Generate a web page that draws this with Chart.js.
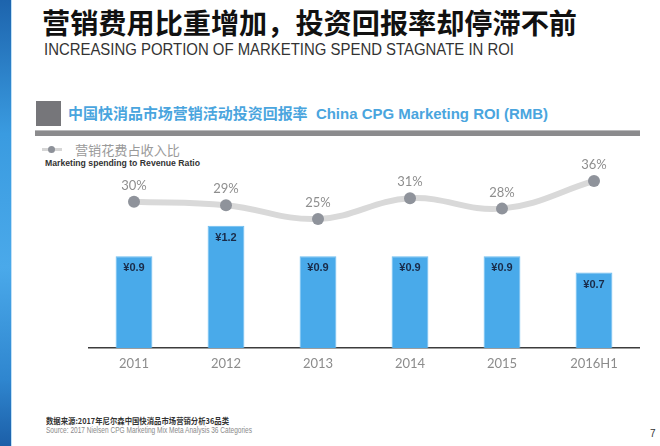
<!DOCTYPE html>
<html>
<head>
<meta charset="utf-8">
<script src="https://cdn.jsdelivr.net/npm/chart.js@4/dist/chart.umd.min.js"></script>
<style>
	html, body { margin: 0; padding: 0; background: #fff; }
	body { width: 660px; height: 446px; position: relative; overflow: hidden; font-family: "Liberation Sans", "Noto Sans CJK SC", sans-serif; }
	.abs { position: absolute; white-space: nowrap; transform-origin: left center; }
	#strip { left: 0; top: 0; width: 11px; height: 446px; background: linear-gradient(#1d64ad, #3a9be0 30%, #4aa9ea 60%, #2f86cf 85%, #1c5fa8); border-right: 1px solid #bfe0f7; }
	#title { left: 42px; top: 6px; font: bold 28px/32px "Noto Sans CJK SC", sans-serif; color: #111; }
	#subtitle { left: 44px; top: 41px; font: 16px/18px "Liberation Sans", sans-serif; color: #333; }
	#square { left: 36px; top: 101px; width: 25px; height: 25px; background: #76767a; }
	#header { left: 68px; top: 104px; font: bold 15px/20px "Liberation Sans", "Noto Sans CJK SC", sans-serif; color: #4aa5de; }
	#rule { left: 35px; top: 130px; width: 605px; height: 5px; background: #8b8b8d; border-top: 1px solid #b9b9bb; }
	#legLine { left: 42px; top: 148px; width: 20px; height: 3px; background: #d6d6d6; }
	#legDot { left: 48px; top: 146px; width: 7px; height: 7px; border-radius: 50%; background: #8d9199; }
	#legText { left: 75px; top: 141px; font: 13px/18px "Noto Sans CJK SC", sans-serif; color: #9a9a9a; }
	#legSub { left: 45px; top: 157px; font: bold 9px/12px "Liberation Sans", sans-serif; color: #333; }
	#wrap { left: 88px; top: 140px; width: 552px; height: 248px; }
	#src1 { left: 46px; top: 415px; font: bold 8px/11px "Noto Sans CJK SC", sans-serif; color: #333; }
	#src2 { left: 46px; top: 425px; font: 9px/11px "Liberation Sans", sans-serif; color: #8a8a8a; }
	#page { left: 650px; top: 428px; font: 10px/12px "Liberation Sans", sans-serif; color: #333; }
</style>
</head>
<body>
<div class="abs" id="strip"></div>
<div class="abs" id="title">营销费用比重增加，投资回报率却停滞不前</div>
<div class="abs" id="subtitle">INCREASING PORTION OF MARKETING SPEND STAGNATE IN ROI</div>
<div class="abs" id="square"></div>
<div class="abs" id="header">中国快消品市场营销活动投资回报率&nbsp; China CPG Marketing ROI (RMB)</div>
<div class="abs" id="rule"></div>
<div class="abs" id="legLine"></div>
<div class="abs" id="legDot"></div>
<div class="abs" id="legText">营销花费占收入比</div>
<div class="abs" id="legSub">Marketing spending to Revenue Ratio</div>
<div class="abs" id="wrap"><canvas id="chart"></canvas></div>
<div class="abs" id="src1">数据来源:2017年尼尔森中国快消品市场营销分析36品类</div>
<div class="abs" id="src2">Source: 2017 Nielsen CPG Marketing Mix Meta Analysis 36 Categories</div>
<div class="abs" id="page">7</div>
<script>
// data
const years = ["2011", "2012", "2013", "2014", "2015", "2016H1"];
const roi = [0.9, 1.2, 0.9, 0.9, 0.9, 0.74];          // RMB return per RMB spent
const spendRatio = [30, 29, 25, 31, 28, 36];          // marketing spend / revenue, %

// squeeze texts to the widths seen on the slide
function fitWidth(id, width) {
	const el = document.getElementById(id);
	const w = el.getBoundingClientRect().width;
	if (w > 0) el.style.transform = "scaleX(" + (width / w) + ")";
}
fitWidth("title", 535);
fitWidth("subtitle", 470);
fitWidth("header", 480);
fitWidth("legText", 105);
fitWidth("legSub", 155);
fitWidth("src1", 183);
fitWidth("src2", 206);

const valueLabels = {
	id: "valueLabels",
	afterDatasetsDraw(chart) {
		const ctx = chart.ctx;
		ctx.save();
		ctx.textAlign = "center";
		ctx.textBaseline = "middle";

		// percentages above the line points
		ctx.font = "13px Lato, 'Liberation Sans', sans-serif";
		ctx.fillStyle = "#8e8e8e";
		chart.getDatasetMeta(0).data.forEach((pt, i) => {
			ctx.fillText(spendRatio[i] + "%", pt.x, pt.y - 16);
		});

		// RMB values inside the bar tops
		ctx.font = "bold 11px 'Liberation Sans', sans-serif";
		ctx.fillStyle = "#1a2b48";
		chart.getDatasetMeta(1).data.forEach((bar, i) => {
			ctx.fillText("¥" + roi[i].toFixed(1), bar.x, bar.y + 12);
		});
		ctx.restore();
	}
};

const context = $id("chart").getContext("2d");
function $id(id) { return document.getElementById(id); }

const chart = new Chart(context, {
	type: "bar",
	data: {
		labels: years,
		datasets: [{
			type: "line",
			label: "营销花费占收入比",
			data: spendRatio,
			yAxisID: "yLine",
			borderColor: "#d9d9d9",
			borderWidth: 6,
			tension: 0.4,
			pointRadius: 6,
			pointBackgroundColor: "#8f939b",
			pointBorderWidth: 0,
			fill: false
		}, {
			label: "China CPG Marketing ROI (RMB)",
			data: roi,
			yAxisID: "y",
			backgroundColor: "#49aaea",
			borderColor: "#6dbdf0",
			borderWidth: 1,
			barPercentage: 0.4,
			categoryPercentage: 1
		}]
	},
	options: {
		responsive: true,
		maintainAspectRatio: false,
		animation: false,
		layout: { autoPadding: false, padding: 0 },
		scales: {
			x: {
				grid: { display: false, drawTicks: false },
				border: { display: true, color: "#3c3c3c", width: 1.5 },
				ticks: {
					color: "#8c8c8c",
					font: { family: "Lato, 'Liberation Sans', sans-serif", size: 13 },
					padding: 8
				},
				afterFit: scale => { scale.height = 40; }
			},
			y: { display: false, min: 0, max: 2.04 },
			yLine: { display: false, min: -12.34, max: 47.86 }
		},
		plugins: {
			legend: { display: false },
			tooltip: { enabled: false }
		}
	},
	plugins: [valueLabels]
});
</script>
</body>
</html>
